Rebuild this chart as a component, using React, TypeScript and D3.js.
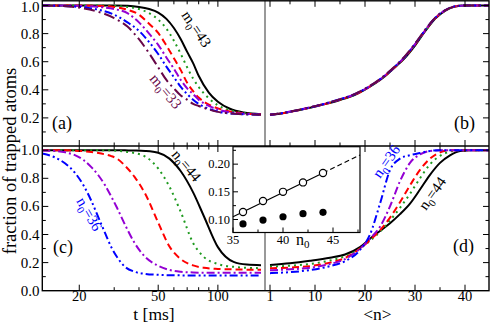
import { useRef, useEffect } from 'react';
import * as d3 from 'd3';

const W = 491;
const H = 324;

// (a) fraction of trapped atoms vs t [ms], m0 = 43 ... 33
const T_A = [13, 16, 20, 25, 30, 35, 40, 45, 50, 55, 60, 65, 70, 75, 80, 90, 100, 115, 135, 165];
const A_M43 = [1, 1, 1, 1, 1, 0.998, 0.99, 0.975, 0.95, 0.905, 0.84, 0.76, 0.67, 0.59, 0.5, 0.38, 0.315, 0.265, 0.238, 0.226];
const A_M41 = [1, 1, 1, 1, 0.997, 0.99, 0.975, 0.945, 0.9, 0.835, 0.75, 0.655, 0.56, 0.48, 0.42, 0.34, 0.29, 0.255, 0.235, 0.226];
const A_M39 = [1, 1, 1, 0.997, 0.99, 0.97, 0.935, 0.87, 0.805, 0.715, 0.625, 0.54, 0.45, 0.39, 0.345, 0.295, 0.268, 0.245, 0.232, 0.225];
const A_M37 = [1, 1, 0.998, 0.99, 0.975, 0.945, 0.88, 0.8, 0.72, 0.63, 0.55, 0.47, 0.41, 0.37, 0.33, 0.285, 0.26, 0.24, 0.23, 0.225];
const A_M35 = [1, 0.998, 0.99, 0.97, 0.935, 0.88, 0.82, 0.74, 0.655, 0.565, 0.49, 0.42, 0.37, 0.33, 0.3, 0.265, 0.245, 0.232, 0.226, 0.223];
const A_M33 = [1, 0.997, 0.985, 0.955, 0.91, 0.85, 0.76, 0.66, 0.56, 0.47, 0.41, 0.36, 0.33, 0.3, 0.285, 0.26, 0.243, 0.232, 0.226, 0.223];

// (b) same runs vs <n>
const N_B = [1, 3, 6, 9, 12, 15, 18, 20, 22, 24, 26, 28, 30, 32, 34, 36, 38, 40, 44.8];
const B_M43 = [0.222, 0.23, 0.25, 0.272, 0.298, 0.328, 0.365, 0.402, 0.445, 0.497, 0.56, 0.628, 0.715, 0.815, 0.905, 0.962, 0.992, 1, 1];
const B_M41 = [0.222, 0.231, 0.251, 0.274, 0.3, 0.33, 0.367, 0.404, 0.447, 0.5, 0.563, 0.632, 0.72, 0.818, 0.906, 0.963, 0.992, 1, 1];
const B_M39 = [0.223, 0.231, 0.25, 0.273, 0.299, 0.33, 0.366, 0.403, 0.448, 0.5, 0.562, 0.633, 0.722, 0.82, 0.908, 0.964, 0.993, 1, 1];
const B_M37 = [0.223, 0.232, 0.252, 0.275, 0.301, 0.332, 0.369, 0.405, 0.449, 0.502, 0.565, 0.636, 0.725, 0.822, 0.91, 0.965, 0.993, 1, 1];
const B_M35 = [0.222, 0.231, 0.251, 0.274, 0.302, 0.333, 0.37, 0.407, 0.45, 0.503, 0.566, 0.637, 0.726, 0.824, 0.911, 0.966, 0.994, 1, 1];
const B_M33 = [0.222, 0.232, 0.252, 0.276, 0.302, 0.334, 0.371, 0.408, 0.451, 0.505, 0.568, 0.64, 0.728, 0.826, 0.912, 0.966, 0.994, 1, 1];

// (c) fraction vs t [ms], n0 = 44 ... 36
const T_C = [13, 15, 17, 19, 21, 23, 25, 27, 29, 31, 34, 38, 43, 50, 57, 65, 75, 85, 100, 120, 140, 165];
const C_N44 = [1, 1, 1, 1, 1, 1, 1, 1, 1, 1, 0.999, 0.998, 0.995, 0.982, 0.94, 0.85, 0.7, 0.53, 0.31, 0.205, 0.186, 0.182];
const C_N42 = [1, 1, 1, 1, 1, 1, 1, 1, 0.998, 0.996, 0.99, 0.98, 0.955, 0.87, 0.74, 0.56, 0.34, 0.24, 0.19, 0.17, 0.163, 0.16];
const C_N40 = [1, 1, 0.999, 0.997, 0.993, 0.988, 0.98, 0.97, 0.958, 0.94, 0.89, 0.81, 0.69, 0.485, 0.315, 0.225, 0.18, 0.163, 0.155, 0.152, 0.15, 0.15];
const C_N38 = [0.998, 0.995, 0.985, 0.965, 0.93, 0.88, 0.82, 0.75, 0.67, 0.59, 0.47, 0.34, 0.24, 0.178, 0.148, 0.135, 0.13, 0.128, 0.128, 0.128, 0.128, 0.128];
const C_N36 = [0.976, 0.95, 0.905, 0.84, 0.75, 0.64, 0.52, 0.41, 0.31, 0.24, 0.17, 0.135, 0.12, 0.113, 0.11, 0.109, 0.108, 0.108, 0.108, 0.108, 0.108, 0.108];

// (d) same runs vs <n>
const N_D = [1, 5, 9, 13, 16, 19, 21, 23, 25, 27, 29, 31, 33, 35, 37, 39, 41, 44.8];
const D_N44 = [0.183, 0.195, 0.213, 0.235, 0.258, 0.31, 0.37, 0.425, 0.48, 0.545, 0.62, 0.72, 0.825, 0.91, 0.964, 0.995, 1, 1];
const D_N42 = [0.171, 0.178, 0.19, 0.215, 0.245, 0.3, 0.355, 0.42, 0.5, 0.59, 0.69, 0.8, 0.9, 0.96, 0.99, 1, 1, 1];
const D_N40 = [0.159, 0.165, 0.175, 0.2, 0.233, 0.3, 0.36, 0.43, 0.52, 0.63, 0.75, 0.86, 0.94, 0.985, 1, 1, 1, 1];
const D_N38 = [0.145, 0.152, 0.163, 0.19, 0.225, 0.3, 0.37, 0.455, 0.6, 0.78, 0.91, 0.97, 0.995, 1, 1, 1, 1, 1];
const D_N36 = [0.125, 0.132, 0.147, 0.175, 0.21, 0.29, 0.4, 0.62, 0.858, 0.94, 0.965, 0.98, 0.995, 1, 1, 1, 1, 1];

// inset: final fraction vs n0
const INSET_N0 = [36, 38, 40, 42, 44];
const INSET_OPEN = [0.1135, 0.1334, 0.15, 0.167, 0.184];
const INSET_FILLED = [0.092, 0.099, 0.105, 0.1105, 0.113];
const FIT_N = [35, 44, 47.7];
const FIT_V = [0.105, 0.184, 0.2166];

// ticks
const T_MAJOR = [20, 50, 100];
const T_MINOR = [30, 40, 60, 70, 80, 90];
const N_MAJOR = [1, 10, 20, 30, 40];
const N_MINOR = [5, 15, 25, 35];
const Y_MAJOR = [0, 0.2, 0.4, 0.6, 0.8, 1.0];
const Y_MINOR = [0.1, 0.3, 0.5, 0.7, 0.9];

const STYLE = {
  black: { color: '#000000', dash: null },
  green: { color: '#1f9a1f', dash: '2,4' },
  red: { color: '#ff0000', dash: '7,4' },
  violet: { color: '#9400d3', dash: '8,3,2,3' },
  blue: { color: '#0000ff', dash: '8,3,2,3,2,3' },
  maroon: { color: '#670748', dash: '11,4,2,4' },
};

const SERIF = "'Liberation Serif', 'Times New Roman', Times, 'DejaVu Serif', serif";

export default function App() {
  const svgRef = useRef(null);

  useEffect(function () {
    const svg = d3.select(svgRef.current);
    svg.selectAll('*').remove();

    const L = 42.3, M = 265, R = 489, TOP = 0.8, MID = 146, BOT = 290.7;

    const xT = d3.scaleLog().domain([13.02, 172.8]).range([L, M]);
    const xN = d3.scaleLinear().domain([0, 44.8]).range([M, R]);
    const yTop = d3.scaleLinear().domain([0, 1.03]).range([MID, 1.3]);
    const yBot = d3.scaleLinear().domain([0, 1.03]).range([BOT, MID]);

    const panels = [
      { x: xT, y: yTop, xs: T_A, clip: [L, TOP, M - L, MID - TOP],
        series: [[A_M43, 'black'], [A_M41, 'green'], [A_M39, 'red'], [A_M37, 'violet'], [A_M35, 'blue'], [A_M33, 'maroon']] },
      { x: xN, y: yTop, xs: N_B, clip: [M, TOP, R - M, MID - TOP],
        series: [[B_M43, 'black'], [B_M41, 'green'], [B_M39, 'red'], [B_M37, 'violet'], [B_M35, 'blue'], [B_M33, 'maroon']] },
      { x: xT, y: yBot, xs: T_C, clip: [L, MID, M - L, BOT - MID],
        series: [[C_N44, 'black'], [C_N42, 'green'], [C_N40, 'red'], [C_N38, 'violet'], [C_N36, 'blue']] },
      { x: xN, y: yBot, xs: N_D, clip: [M, MID, R - M, BOT - MID],
        series: [[D_N44, 'black'], [D_N42, 'green'], [D_N40, 'red'], [D_N38, 'violet'], [D_N36, 'blue']] },
    ];

    const defs = svg.append('defs');
    panels.forEach(function (p, i) {
      defs.append('clipPath').attr('id', 'clip' + i)
        .append('rect').attr('x', p.clip[0]).attr('y', p.clip[1]).attr('width', p.clip[2]).attr('height', p.clip[3]);
    });

    panels.forEach(function (p, i) {
      const g = svg.append('g').attr('clip-path', 'url(#clip' + i + ')');
      p.series.forEach(function (s) {
        const vals = s[0] as number[];
        const st = STYLE[s[1] as string];
        const line = d3.line<number>()
          .x(function (_d, k) { return p.x(p.xs[k]); })
          .y(function (d) { return p.y(d); })
          .curve(d3.curveMonotoneX);
        g.append('path')
          .attr('d', line(vals))
          .attr('fill', 'none')
          .attr('stroke', st.color)
          .attr('stroke-width', 2)
          .attr('stroke-dasharray', st.dash);
      });
    });

    // frame
    const frame = svg.append('g').attr('stroke', '#000').attr('fill', 'none');
    frame.append('line').attr('x1', M).attr('x2', M).attr('y1', TOP).attr('y2', BOT).attr('stroke', '#555').attr('stroke-width', 1.2);
    frame.append('rect').attr('x', L).attr('y', TOP).attr('width', R - L).attr('height', BOT - TOP).attr('stroke-width', 1.4);
    frame.append('line').attr('x1', L).attr('x2', R).attr('y1', MID).attr('y2', MID).attr('stroke-width', 1.4);

    const ticks = svg.append('g').attr('stroke', '#000').attr('stroke-width', 1);
    function xTicks(scale, vals, y, dir, len) {
      vals.forEach(function (v) {
        ticks.append('line').attr('x1', scale(v)).attr('x2', scale(v)).attr('y1', y).attr('y2', y + dir * len);
      });
    }
    function yTicks(scale, vals, x, dir, len) {
      vals.forEach(function (v) {
        ticks.append('line').attr('y1', scale(v)).attr('y2', scale(v)).attr('x1', x).attr('x2', x + dir * len);
      });
    }
    [[TOP, 1], [MID, -1], [MID, 1], [BOT, -1]].forEach(function (e) {
      xTicks(xT, T_MAJOR, e[0], e[1], 6);
      xTicks(xT, T_MINOR, e[0], e[1], 3.5);
      xTicks(xN, N_MAJOR, e[0], e[1], 6);
      xTicks(xN, N_MINOR, e[0], e[1], 3.5);
    });
    [yTop, yBot].forEach(function (ys) {
      const maj = Y_MAJOR.filter(function (v) { return ys(v) > TOP + 2 && ys(v) < (ys === yTop ? MID - 2 : BOT - 2); });
      yTicks(ys, maj, L, 1, 6);
      yTicks(ys, Y_MINOR, L, 1, 3.5);
      yTicks(ys, maj, R, -1, 6);
      yTicks(ys, Y_MINOR, R, -1, 3.5);
    });

    // tick labels
    const lab = svg.append('g').style('font-family', SERIF).attr('font-size', 15).attr('fill', '#000');
    Y_MAJOR.filter(function (v) { return v > 0; }).forEach(function (v) {
      lab.append('text').attr('x', 39.5).attr('y', Math.max(yTop(v) + 5, 12)).attr('text-anchor', 'end').text(v.toFixed(1));
    });
    Y_MAJOR.forEach(function (v) {
      lab.append('text').attr('x', 39.5).attr('y', yBot(v) + 5).attr('text-anchor', 'end').text(v.toFixed(1));
    });
    const xl = svg.append('g').style('font-family', SERIF).attr('font-size', 14.5).attr('fill', '#000');
    T_MAJOR.forEach(function (v) {
      xl.append('text').attr('x', xT(v)).attr('y', 301).attr('text-anchor', 'middle').text(v);
    });
    N_MAJOR.forEach(function (v) {
      xl.append('text').attr('x', xN(v)).attr('y', 301).attr('text-anchor', 'middle').text(v);
    });

    // axis titles
    const ttl = svg.append('g').style('font-family', SERIF).attr('font-size', 17.5).attr('fill', '#000');
    ttl.append('text').attr('transform', 'translate(16,161) rotate(-90)').attr('font-size', 18.5).attr('text-anchor', 'middle').text('fraction of trapped atoms');
    ttl.append('text').attr('x', 154).attr('y', 320).attr('text-anchor', 'middle').text('t [ms]');
    ttl.append('text').attr('x', 377.5).attr('y', 320).attr('text-anchor', 'middle').text('<n>');

    // panel letters
    const pl = svg.append('g').style('font-family', SERIF).attr('font-size', 18).attr('fill', '#000');
    pl.append('text').attr('x', 52).attr('y', 129).text('(a)');
    pl.append('text').attr('x', 454).attr('y', 129).text('(b)');
    pl.append('text').attr('x', 53).attr('y', 253).text('(c)');
    pl.append('text').attr('x', 453).attr('y', 252).text('(d)');

    // curve labels with subscript
    function subLabel(x, y, angle, base, rest, color) {
      const t = svg.append('text')
        .attr('transform', 'translate(' + x + ',' + y + ') rotate(' + angle + ')')
        .style('font-family', SERIF).attr('font-size', 15).attr('fill', color);
      t.append('tspan').text(base);
      t.append('tspan').attr('font-size', 10.5).attr('dy', 4).text('0');
      t.append('tspan').attr('dy', -4).text(rest);
    }
    subLabel(181, 15, 56, 'm', '=43', '#000');
    subLabel(149, 79, 50, 'm', '=33', STYLE.maroon.color);
    subLabel(171, 155, 50, 'n', '=44', '#000');
    subLabel(76, 201, 60, 'n', '=36', STYLE.blue.color);
    subLabel(380, 179, -55, 'n', '=36', STYLE.blue.color);
    subLabel(426, 211, -55, 'n', '=44', '#000');

    // inset
    const xI = d3.scaleLinear().domain([35, 47.7]).range([233, 360]);
    const yI = d3.scaleLinear().domain([0.0765, 0.231]).range([232.5, 147]);
    const ins = svg.append('g');
    ins.append('rect').attr('x', 233).attr('y', 146.7).attr('width', 127).attr('height', 85.8)
      .attr('fill', '#fff').attr('stroke', '#000').attr('stroke-width', 1.2);
    [35, 40, 45].forEach(function (v) {
      ins.append('line').attr('x1', xI(v)).attr('x2', xI(v)).attr('y1', 232.5).attr('y2', 227.5).attr('stroke', '#000');
    });
    [37.5, 42.5, 47.5].forEach(function (v) {
      ins.append('line').attr('x1', xI(v)).attr('x2', xI(v)).attr('y1', 232.5).attr('y2', 229.5).attr('stroke', '#000');
    });
    [0.1, 0.15, 0.2].forEach(function (v) {
      ins.append('line').attr('x1', 233).attr('x2', 238).attr('y1', yI(v)).attr('y2', yI(v)).attr('stroke', '#000');
    });
    [0.125, 0.175, 0.225].forEach(function (v) {
      ins.append('line').attr('x1', 233).attr('x2', 236).attr('y1', yI(v)).attr('y2', yI(v)).attr('stroke', '#000');
    });
    const il = ins.append('g').style('font-family', SERIF).attr('font-size', 12.5).attr('fill', '#000');
    [0.1, 0.15, 0.2].forEach(function (v) {
      il.append('text').attr('x', 230).attr('y', yI(v) + 4.3).attr('text-anchor', 'end').text(v.toFixed(2));
    });
    [35, 40, 45].forEach(function (v) {
      il.append('text').attr('x', xI(v)).attr('y', 244).attr('text-anchor', 'middle').text(v);
    });
    const nl = ins.append('text').attr('x', 296).attr('y', 245).style('font-family', SERIF).attr('font-size', 16).attr('fill', '#000');
    nl.append('tspan').text('n');
    nl.append('tspan').attr('font-size', 11).attr('dy', 3).text('0');

    ins.append('line')
      .attr('x1', xI(FIT_N[0])).attr('y1', yI(FIT_V[0])).attr('x2', xI(FIT_N[1])).attr('y2', yI(FIT_V[1]))
      .attr('stroke', '#000').attr('stroke-width', 1.2);
    ins.append('line')
      .attr('x1', xI(FIT_N[1])).attr('y1', yI(FIT_V[1])).attr('x2', xI(FIT_N[2])).attr('y2', yI(FIT_V[2]))
      .attr('stroke', '#000').attr('stroke-width', 1.2).attr('stroke-dasharray', '5,3');
    INSET_N0.forEach(function (n, i) {
      ins.append('circle').attr('cx', xI(n)).attr('cy', yI(INSET_OPEN[i])).attr('r', 3.6)
        .attr('fill', '#fff').attr('stroke', '#000').attr('stroke-width', 1.2);
      ins.append('circle').attr('cx', xI(n)).attr('cy', yI(INSET_FILLED[i])).attr('r', 3.6).attr('fill', '#000');
    });
  }, []);

  return (
    <svg ref={svgRef} width={W} height={H}
      style={{ position: 'absolute', left: 0, top: 0, background: '#fff', fontFamily: SERIF }} />
  );
}
